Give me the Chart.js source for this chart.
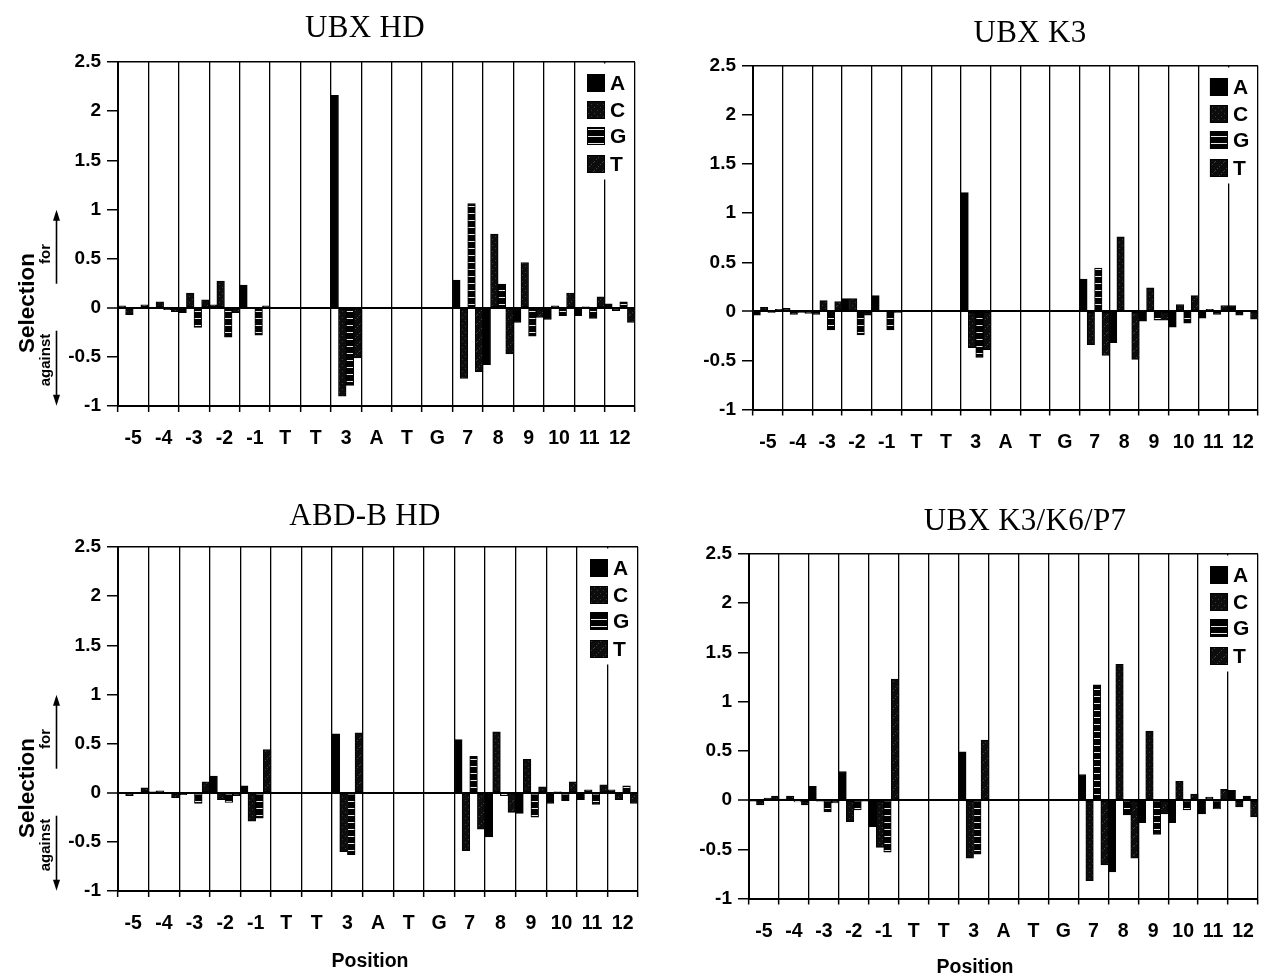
<!DOCTYPE html>
<html>
<head>
<meta charset="utf-8">
<script src="https://cdn.jsdelivr.net/npm/chart.js@4.4.1/dist/chart.umd.min.js"></script>
<style>
html,body{margin:0;padding:0;background:#fff;width:1269px;height:976px;overflow:hidden;position:relative;}
canvas{position:absolute;left:0;top:0;}
.title{position:absolute;font-family:"Liberation Serif","Times New Roman",serif;font-size:31px;transform:translate(-50%,-50%);white-space:nowrap;color:#000;letter-spacing:0.3px;}
.pos{position:absolute;font-family:"Liberation Sans",Arial,sans-serif;font-weight:bold;font-size:19.5px;transform:translate(-50%,-50%);white-space:nowrap;color:#000;}
.ylab{position:absolute;font-family:"Liberation Sans",Arial,sans-serif;font-weight:bold;transform:translate(-50%,-50%) rotate(-90deg);white-space:nowrap;color:#000;line-height:1;}
</style>
</head>
<body>
<canvas id="c1" width="1269" height="976"></canvas>
<canvas id="c2" width="1269" height="976"></canvas>
<canvas id="c3" width="1269" height="976"></canvas>
<canvas id="c4" width="1269" height="976"></canvas>
<script>
// ---------- DATA ----------
const positions = ['-5','-4','-3','-2','-1','T','T','3','A','T','G','7','8','9','10','11','12'];
const yTickLabels = ['-1','-0.5','0','0.5','1','1.5','2','2.5'];
const bases = ['A','C','G','T'];
const panelTitles = ['UBX HD','UBX K3','ABD-B HD','UBX K3/K6/P7'];
const xAxisTitle = 'Position';
const yAxisTitle = 'Selection';
const yForLabel = 'for';
const yAgainstLabel = 'against';

// UBX HD
const ubxHD_A = [0.02, -0.01, -0.05, 0.03, 0.23, null, null, 2.16, null, null, null, 0.28, -0.58, -0.15, -0.12, -0.08, 0.04];
const ubxHD_C = [-0.07, 0.06, 0.15, 0.27, -0.01, null, null, -0.90, null, null, null, -0.72, 0.75, 0.46, 0.02, 0.01, -0.03];
const ubxHD_G = [0.00, -0.02, -0.20, -0.30, -0.28, null, null, -0.79, null, null, null, 1.06, 0.24, -0.29, -0.08, -0.11, 0.06];
const ubxHD_T = [0.03, -0.04, 0.08, -0.05, 0.02, null, null, -0.51, null, null, null, -0.65, -0.47, -0.10, 0.15, 0.11, -0.15];

// UBX K3
const ubxK3_A = [-0.04, 0.03, -0.03, 0.13, 0.16, null, null, 1.21, null, null, null, 0.33, -0.32, -0.10, -0.16, -0.07, 0.06];
const ubxK3_C = [0.04, -0.03, 0.11, 0.13, 0.01, null, null, -0.37, null, null, null, -0.34, 0.76, 0.24, 0.07, 0.02, -0.04];
const ubxK3_G = [-0.01, -0.01, -0.19, -0.24, -0.19, null, null, -0.47, null, null, null, 0.44, 0.01, -0.09, -0.12, -0.03, 0.01];
const ubxK3_T = [0.02, -0.02, 0.10, -0.04, -0.01, null, null, -0.39, null, null, null, -0.45, -0.49, -0.09, 0.16, 0.06, -0.08];

// ABD-B HD
const abdbHD_A = [-0.01, 0.01, -0.02, 0.17, 0.07, null, null, 0.60, null, null, null, 0.54, -0.45, -0.21, -0.11, -0.07, 0.03];
const abdbHD_C = [-0.03, 0.02, -0.01, -0.07, -0.29, null, null, -0.60, null, null, null, -0.59, 0.62, 0.34, 0.01, 0.03, -0.07];
const abdbHD_G = [0.00, -0.01, -0.11, -0.10, -0.26, null, null, -0.63, null, null, null, 0.37, -0.03, -0.25, -0.08, -0.12, 0.07];
const abdbHD_T = [0.05, -0.05, 0.11, -0.03, 0.44, null, null, 0.61, null, null, null, -0.37, -0.20, 0.06, 0.11, 0.08, -0.11];

// UBX K3/K6/P7
const ubxK3K6P7_A = [-0.01, 0.01, 0.14, 0.29, -0.27, null, null, 0.49, null, null, null, 0.26, -0.73, -0.23, -0.23, -0.14, 0.10];
const ubxK3K6P7_C = [-0.05, 0.04, -0.01, -0.22, -0.48, null, null, -0.59, null, null, null, -0.82, 1.38, 0.70, 0.19, 0.03, -0.07];
const ubxK3K6P7_G = [0.02, -0.02, -0.12, -0.10, -0.53, null, null, -0.55, null, null, null, 1.17, -0.15, -0.35, -0.10, -0.09, 0.04];
const ubxK3K6P7_T = [0.04, -0.05, -0.03, -0.01, 1.23, null, null, 0.61, null, null, null, -0.66, -0.59, -0.14, 0.06, 0.11, -0.17];

// ---------- STYLE / LAYOUT ----------
const W = 1269, H = 976, YW = 60, XH = 60;
const SANS = '"Liberation Sans", Arial, sans-serif';

function makePattern(kind){
  const c = document.createElement('canvas');
  let w = 6, h = 6;
  if (kind === 'G') { w = 2; h = 7; }
  if (kind === 'T') { w = 9; h = 9; }
  c.width = w; c.height = h;
  const x = c.getContext('2d');
  if (kind === 'A') { x.fillStyle = '#000'; x.fillRect(0,0,w,h); }
  if (kind === 'C') {
    x.fillStyle = '#0d0d0d'; x.fillRect(0,0,w,h);
    x.fillStyle = '#3a3a3a';
    for (let i=0;i<w;i+=3) x.fillRect(i, h-1-i, 1, 1);
  }
  if (kind === 'G') {
    x.fillStyle = '#000'; x.fillRect(0,0,w,h);
    x.fillStyle = '#e6e6e6'; x.fillRect(0,3,w,1);
  }
  if (kind === 'T') {
    x.fillStyle = '#0d0d0d'; x.fillRect(0,0,w,h);
    x.fillStyle = '#404040';
    for (let i=0;i<w;i+=2) x.fillRect(i, h-1-i, 1, 1);
  }
  return c.getContext('2d').createPattern(c, 'repeat');
}
const fills = { A: makePattern('A'), C: makePattern('C'), G: makePattern('G'), T: makePattern('T') };

const legendPlugin = {
  id: 'boxLegend',
  afterDraw(chart){
    const a = chart.chartArea, ctx = chart.ctx;
    const offs = [21, 48, 74, 102];
    ctx.save();
    ctx.fillStyle = '#fff';
    ctx.fillRect(a.right - 57, a.top + 1.5, 55.5, 116);
    chart.data.datasets.forEach((ds, i) => {
      const cy = a.top + offs[i];
      ctx.fillStyle = ds.backgroundColor;
      ctx.fillRect(a.right - 48, cy - 9, 18, 18);
      ctx.strokeStyle = '#000'; ctx.lineWidth = 1;
      ctx.strokeRect(a.right - 47.5, cy - 8.5, 17, 17);
      ctx.fillStyle = '#000';
      ctx.font = 'bold 21px ' + SANS;
      ctx.textBaseline = 'middle'; ctx.textAlign = 'left';
      ctx.fillText(ds.label, a.right - 25, cy + 1);
    });
    ctx.restore();
  }
};

const arrowPlugin = {
  id: 'selArrows',
  afterDraw(chart, args, opts){
    if (!opts || !opts.show) return;
    const ctx = chart.ctx, z = chart.scales.y.getPixelForValue(0), x = 56.5;
    function arrow(y0, y1){
      const dir = y1 < y0 ? -1 : 1;
      ctx.beginPath(); ctx.moveTo(x, y0); ctx.lineTo(x, y1 - dir*9); ctx.stroke();
      ctx.beginPath(); ctx.moveTo(x, y1); ctx.lineTo(x-3.5, y1 - dir*11); ctx.lineTo(x+3.5, y1 - dir*11); ctx.closePath(); ctx.fill();
    }
    ctx.save(); ctx.strokeStyle = '#000'; ctx.fillStyle = '#000'; ctx.lineWidth = 1.6;
    arrow(z - 24, z - 98);
    arrow(z + 23, z + 98);
    ctx.restore();
  }
};

const panels = [
  { id:'c1', title:panelTitles[0], series:[ubxHD_A, ubxHD_C, ubxHD_G, ubxHD_T], area:{left:118,right:635,top:62,bottom:406}, titleAt:[365,27], sel:true, posAt:null },
  { id:'c2', title:panelTitles[1], series:[ubxK3_A, ubxK3_C, ubxK3_G, ubxK3_T], area:{left:753,right:1267,top:66,bottom:409.5}, titleAt:[1030,32], sel:false, posAt:null },
  { id:'c3', title:panelTitles[2], series:[abdbHD_A, abdbHD_C, abdbHD_G, abdbHD_T], area:{left:118,right:638,top:547,bottom:891}, titleAt:[365,515], sel:true, posAt:[370,960] },
  { id:'c4', title:panelTitles[3], series:[ubxK3K6P7_A, ubxK3K6P7_C, ubxK3K6P7_G, ubxK3K6P7_T], area:{left:749,right:1265,top:554,bottom:898.5}, titleAt:[1025,520], sel:false, posAt:[975,966] }
];

function addDiv(cls, text, x, y, extra){
  const d = document.createElement('div');
  d.className = cls; d.textContent = text;
  d.style.left = x + 'px'; d.style.top = y + 'px';
  if (extra) Object.assign(d.style, extra);
  document.body.appendChild(d);
  return d;
}

panels.forEach(p => {
  const a = p.area;
  const chart = new Chart(document.getElementById(p.id), {
    type: 'bar',
    data: {
      labels: positions,
      datasets: bases.map((b, i) => ({
        label: b,
        data: p.series[i],
        backgroundColor: fills[b],
        borderColor: '#000',
        borderWidth: 1,
        borderSkipped: false,
        categoryPercentage: 1.0,
        barPercentage: 1.0
      }))
    },
    options: {
      responsive: false,
      animation: false,
      events: [],
      devicePixelRatio: 1,
      layout: { padding: { left: a.left - YW, right: W - a.right, top: a.top, bottom: H - a.bottom - XH } },
      plugins: { legend: { display: false }, tooltip: { enabled: false }, title: { display: false }, selArrows: { show: p.sel } },
      scales: {
        x: {
          type: 'category',
          offset: true,
          grid: { display: true, offset: true, drawOnChartArea: true, color: '#000', lineWidth: 1.3, tickColor: '#000', tickLength: 6, tickWidth: 1.5 },
          border: { display: true, color: '#000', width: 2 },
          ticks: { color: '#000', autoSkip: false, maxRotation: 0, minRotation: 0, padding: 15, font: { family: SANS, size: 19.5, weight: 'bold' } },
          afterFit(s){ s.height = XH; }
        },
        y: {
          min: -1, max: 2.5,
          ticks: { stepSize: 0.5, color: '#000', padding: 6, font: { family: SANS, size: 19, weight: 'bold' },
                   callback: (v) => yTickLabels[Math.round((v + 1) / 0.5)] },
          grid: {
            drawOnChartArea: true,
            color: (c) => (c.tick && (c.tick.value === 0 || c.tick.value === 2.5)) ? '#000' : 'rgba(0,0,0,0)',
            lineWidth: (c) => (c.tick && c.tick.value === 0) ? 2 : 1.5,
            tickColor: '#000', tickLength: 11, tickWidth: 1.5
          },
          border: { display: true, color: '#000', width: 2 },
          afterFit(s){ s.width = YW; }
        }
      }
    },
    plugins: [legendPlugin, arrowPlugin]
  });

  addDiv('title', p.title, p.titleAt[0], p.titleAt[1]);
  if (p.posAt) addDiv('pos', xAxisTitle, p.posAt[0], p.posAt[1]);
  if (p.sel) {
    const z = chart.scales.y.getPixelForValue(0);
    addDiv('ylab', yAxisTitle, 27, z - 5, { fontSize: '22.5px' });
    addDiv('ylab', yForLabel, 44, z - 54, { fontSize: '15px' });
    addDiv('ylab', yAgainstLabel, 44, z + 52, { fontSize: '15px' });
  }
});
</script>
</body>
</html>
